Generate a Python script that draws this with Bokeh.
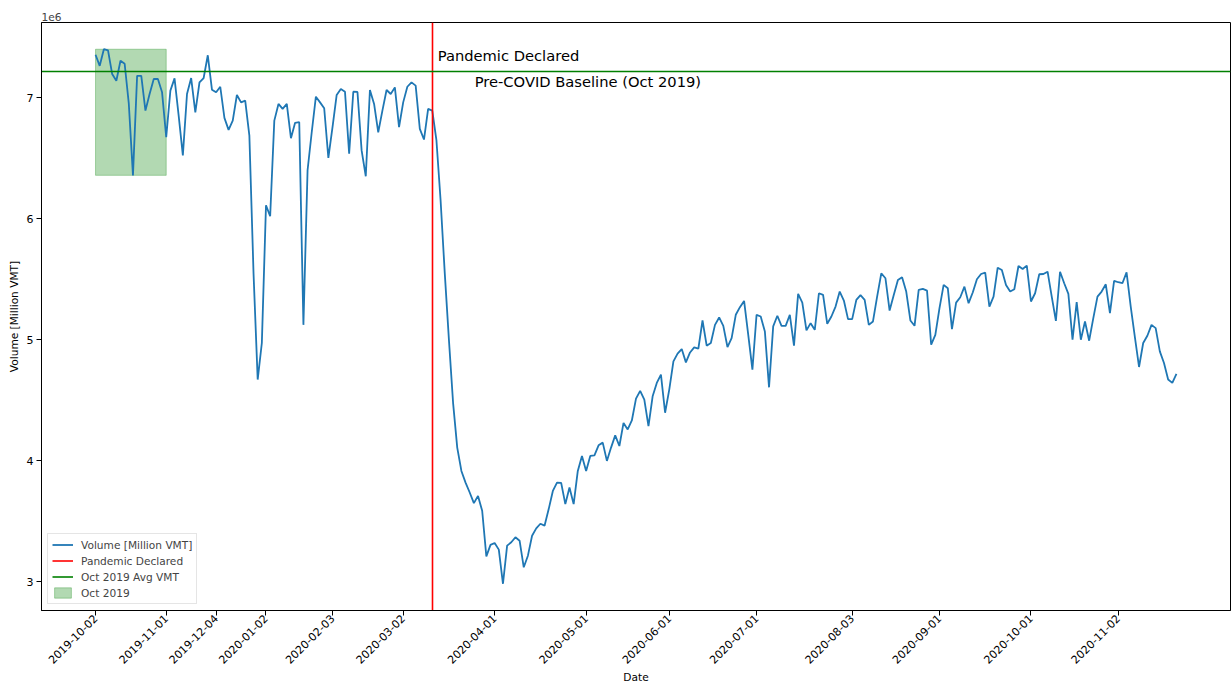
from math import pi
from bokeh.plotting import figure
from bokeh.models import FixedTicker, Legend, LegendItem, Range1d
from bokeh.core.properties import value
from bokeh.embed import file_html
from bokeh.resources import INLINE

# Daily volume (business days), in millions of VMT (axis shows x1e6)
vmt = [
    7.354, 7.263, 7.400, 7.390, 7.195, 7.140, 7.305, 7.280, 6.950, 6.358,
    7.180, 7.180, 6.893, 7.030, 7.154, 7.154, 7.044, 6.673, 7.058, 7.159,
    6.850, 6.523, 7.030, 7.162, 6.879, 7.126, 7.162, 7.350, 7.066, 7.044,
    7.090, 6.833, 6.734, 6.810, 7.022, 6.961, 6.975, 6.687, 5.550, 4.671,
    4.973, 6.111, 6.020, 6.810, 6.948, 6.907, 6.948, 6.665, 6.792, 6.797,
    5.123, 6.400, 6.714, 7.008, 6.961, 6.912, 6.503, 6.756, 7.022, 7.071,
    7.049, 6.537, 7.049, 7.047, 6.564, 6.350, 7.063, 6.948, 6.714, 6.893,
    7.063, 7.030, 7.085, 6.756, 6.961, 7.090, 7.126, 7.099, 6.742, 6.654,
    6.907, 6.893, 6.646, 6.150, 5.550, 5.000, 4.479, 4.109, 3.916, 3.820,
    3.738, 3.650, 3.710, 3.587, 3.210, 3.305, 3.321, 3.266, 2.984, 3.299,
    3.327, 3.368, 3.340, 3.120, 3.216, 3.381, 3.442, 3.480, 3.464, 3.601,
    3.751, 3.820, 3.817, 3.642, 3.779, 3.642, 3.916, 4.040, 3.916, 4.040,
    4.045, 4.128, 4.150, 3.999, 4.109, 4.210, 4.122, 4.313, 4.259, 4.333,
    4.514, 4.578, 4.506, 4.287, 4.533, 4.643, 4.712, 4.397, 4.588, 4.821,
    4.885, 4.923, 4.813, 4.895, 4.937, 4.926, 5.159, 4.951, 4.973, 5.123,
    5.184, 5.115, 4.940, 5.014, 5.206, 5.269, 5.321, 5.040, 4.753, 5.206,
    5.192, 5.068, 4.607, 5.110, 5.198, 5.115, 5.115, 5.206, 4.951, 5.379,
    5.307, 5.077, 5.137, 5.082, 5.384, 5.370, 5.132, 5.192, 5.274, 5.398,
    5.324, 5.170, 5.170, 5.329, 5.368, 5.329, 5.123, 5.151, 5.356, 5.549,
    5.508, 5.241, 5.370, 5.494, 5.516, 5.398, 5.159, 5.115, 5.412, 5.420,
    5.406, 4.959, 5.041, 5.261, 5.453, 5.426, 5.088, 5.307, 5.351, 5.439,
    5.302, 5.390, 5.500, 5.543, 5.554, 5.274, 5.356, 5.595, 5.576, 5.453,
    5.398, 5.417, 5.609, 5.584, 5.612, 5.316, 5.384, 5.541, 5.543, 5.562,
    5.356, 5.156, 5.562, 5.467, 5.379, 5.000, 5.310, 5.000, 5.151, 4.992,
    5.178, 5.356, 5.398, 5.458, 5.220, 5.486, 5.475, 5.467, 5.557, 5.274,
    5.022, 4.775, 4.973, 5.033, 5.123, 5.096, 4.904, 4.808, 4.671, 4.644,
    4.718,
]

tick_labels = ["2019-10-02", "2019-11-01", "2019-12-04", "2020-01-02", "2020-02-03",
               "2020-03-02", "2020-04-01", "2020-05-01", "2020-06-01", "2020-07-01",
               "2020-08-03", "2020-09-01", "2020-10-01", "2020-11-02"]
tick_index = [0, 17, 29, 41, 57, 74, 96, 118, 138, 159, 182, 203, 225, 246]

oct_last_index = 17          # last point of the Oct 2019 window
pandemic_index = 81          # 2020-03-11
baseline_vmt = 7.214         # Oct 2019 average
y_ticks = [3, 4, 5, 6, 7]

x = list(range(len(vmt)))
ymin, ymax = min(vmt), max(vmt)
ypad = 0.05 * (ymax - ymin)
xpad = 0.05 * (len(vmt) - 1)

FONT = "DejaVu Sans"

p = figure(width=1231, height=686, output_backend="svg", toolbar_location=None,
           x_range=Range1d(-xpad, len(vmt) - 1 + xpad),
           y_range=Range1d(ymin - ypad, ymax + ypad),
           min_border_left=41, min_border_right=1, min_border_top=22,
           min_border_bottom=0,
           background_fill_color="white", border_fill_color="white")

oct_vals = vmt[:oct_last_index + 1]
r_patch = p.quad(left=[0], right=[oct_last_index], bottom=[min(oct_vals)], top=[max(oct_vals)],
                 fill_color="green", fill_alpha=0.3, line_color="green", line_alpha=0.3)
r_line = p.line(x, vmt, line_color="#1f77b4", line_width=1.8)
r_red = p.vspan(x=[pandemic_index], line_color="red", line_width=1.6)
r_green = p.hspan(y=[baseline_vmt], line_color="green", line_width=1.6)

p.text(x=[pandemic_index + 1.3], y=[7.346], text=["Pandemic Declared"],
       text_font=value(FONT), text_font_size="14.7px", text_baseline="middle",
       text_align="left", text_color="black")
p.text(x=[pandemic_index + 10.2], y=[7.132], text=["Pre-COVID Baseline (Oct 2019)"],
       text_font=value(FONT), text_font_size="14.7px", text_baseline="middle",
       text_align="left", text_color="black")

legend = Legend(items=[
    LegendItem(label="Volume [Million VMT]", renderers=[r_line]),
    LegendItem(label="Pandemic Declared", renderers=[r_red]),
    LegendItem(label="Oct 2019 Avg VMT", renderers=[r_green]),
    LegendItem(label="Oct 2019", renderers=[r_patch]),
], location="bottom_left")
legend.label_text_font = FONT
legend.label_text_font_size = "10.6px"
legend.label_height = 13
legend.glyph_height = 13
legend.glyph_width = 21
legend.spacing = 3
legend.padding = 4
legend.margin = 6
legend.label_standoff = 8
legend.border_line_color = "#cccccc"
legend.border_line_width = 1
legend.background_fill_alpha = 0.8
p.add_layout(legend)

p.xaxis.ticker = FixedTicker(ticks=tick_index)
p.xaxis.major_label_overrides = {i: l for i, l in zip(tick_index, tick_labels)}
p.xaxis.major_label_orientation = pi / 4
p.yaxis.ticker = FixedTicker(ticks=y_ticks)
p.yaxis.major_label_overrides = {t: str(t) for t in y_ticks}

p.xaxis.axis_label = "Date"
p.yaxis.axis_label = "Volume [Million VMT]"
for ax in (p.xaxis, p.yaxis):
    ax.axis_label_text_font = FONT
    ax.axis_label_text_font_size = "10.6px"
    ax.axis_label_text_font_style = "normal"
    ax.axis_label_text_color = "black"
    ax.major_label_text_font = FONT
    ax.major_label_text_font_size = "11px"
    ax.major_label_text_color = "black"
    ax.minor_tick_line_color = None
    ax.major_tick_out = 5
    ax.major_tick_in = 0
    ax.major_tick_line_color = "black"
    ax.axis_line_color = "black"
p.xaxis.major_label_standoff = 1
p.xaxis.axis_label_standoff = 1
p.yaxis.major_label_standoff = 3
p.yaxis.axis_label_standoff = 4

p.grid.visible = False
p.outline_line_color = "black"
p.outline_line_alpha = 1.0

p.title.text = "1e6"
p.title.align = "left"
p.title.text_font = FONT
p.title.text_font_size = "10.6px"
p.title.text_font_style = "normal"
p.title.standoff = 3
p.title.offset = 0

open("out.html", "w").write(file_html(p, INLINE))
